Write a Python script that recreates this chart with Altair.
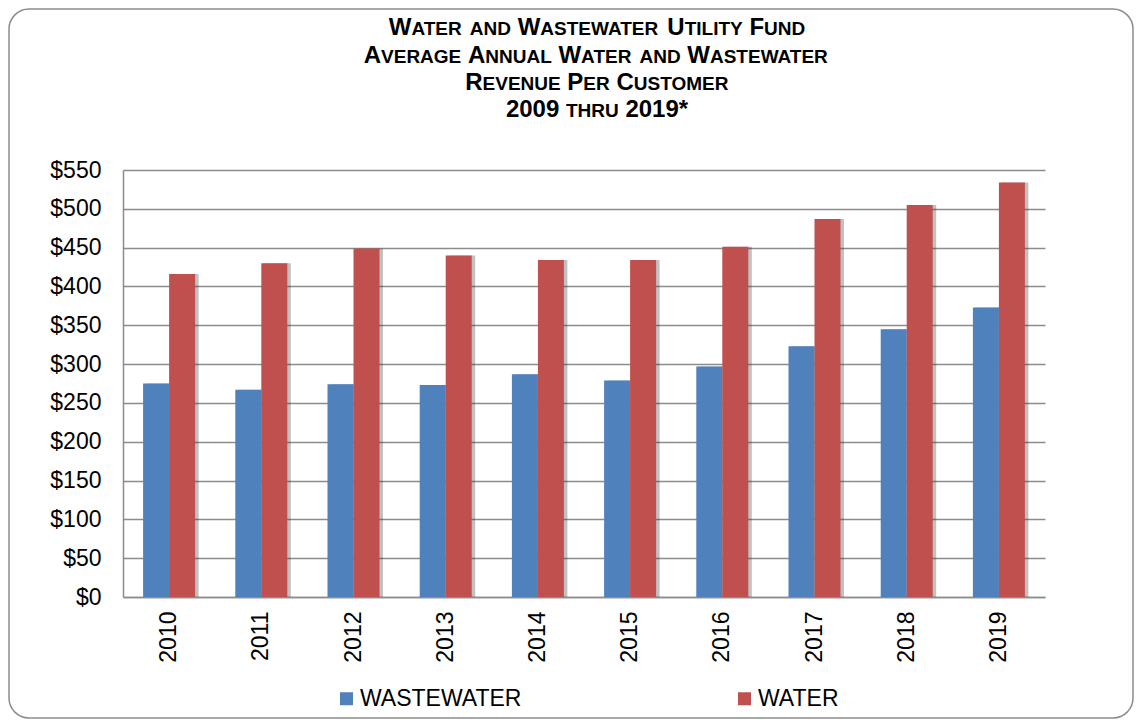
import altair as alt
import pandas as pd

# ---- data ----
years = ["2010", "2011", "2012", "2013", "2014", "2015", "2016", "2017", "2018", "2019"]
wastewater = [275, 267, 274, 273, 287, 279, 297, 323, 345, 373]
water = [416, 430, 449, 440, 434, 434, 451, 487, 505, 534]
series = ["WASTEWATER", "WATER"]
colors = ["#4F81BD", "#C0504D"]
y_ticks = [0, 50, 100, 150, 200, 250, 300, 350, 400, 450, 500, 550]
title_lines = [
    "Water and Wastewater Utility Fund",
    "Average Annual Water and Wastewater",
    "Revenue Per Customer",
    "2009 thru 2019*",
]

rows = []
for i, yr in enumerate(years):
    rows.append({"year": yr, "series": series[0], "value": wastewater[i]})
    rows.append({"year": yr, "series": series[1], "value": water[i]})
df = pd.DataFrame(rows)

FONT = "Liberation Sans"
PLOT_W, PLOT_H = 922, 427
PAD = {"left": 115, "top": 162, "right": 89, "bottom": 122}
P_INNER, P_OUTER = 0.436, 0.218
STEP = PLOT_W / (len(years) - P_INNER + 2 * P_OUTER)
BANDW = STEP * (1 - P_INNER)

# ---- small-caps title built from text segments ----
BOLD_W = {
    " ": 278, "*": 389, "A": 722, "B": 722, "C": 722, "D": 722, "E": 667, "F": 611,
    "G": 778, "H": 722, "I": 278, "J": 556, "K": 722, "L": 611, "M": 833, "N": 722,
    "O": 778, "P": 667, "Q": 778, "R": 722, "S": 667, "T": 611, "U": 722, "V": 667,
    "W": 944, "X": 667, "Y": 667, "Z": 611,
}
for d in "0123456789":
    BOLD_W[d] = 556
BIG, SMALL = 24, 19
CX = 474
baselines = [-135, -107.3, -80, -52.7]

title_layers = []
one = alt.Data(values=[{"a": 1}])
for line, by in zip(title_lines, baselines):
    chars = []
    for ch in line:
        fs = SMALL if ch.islower() else BIG
        chars.append((ch.upper(), fs))
    total = sum(BOLD_W[c] * fs / 1000 for c, fs in chars)
    x = CX - total / 2
    segs = []
    for c, fs in chars:
        w = BOLD_W[c] * fs / 1000
        if c == " ":
            segs.append(None)
        elif segs and segs[-1] is not None and segs[-1][2] == fs:
            segs[-1][1] += c
        else:
            segs.append([x, c, fs])
        x += w
    for s in segs:
        if s is None:
            continue
        title_layers.append(
            alt.Chart(one).mark_text(
                align="left", baseline="alphabetic", font=FONT, fontWeight="bold",
                fontSize=s[2], color="black"
            ).encode(x=alt.value(s[0]), y=alt.value(by), text=alt.value(s[1]))
        )

frame = alt.Chart(one).mark_rect(
    fillOpacity=0, stroke="#8c8c8c", strokeWidth=1.5, cornerRadius=20
).encode(
    x=alt.value(-114), x2=alt.value(PLOT_W + PAD["right"] - 1),
    y=alt.value(-PAD["top"] + 1), y2=alt.value(PLOT_H + PAD["bottom"] - 1),
)

x_enc = alt.X(
    "year:N", sort=years, title=None,
    scale=alt.Scale(paddingInner=P_INNER, paddingOuter=P_OUTER),
    axis=alt.Axis(
        labelAngle=270, labelAlign="right", labelBaseline="middle",
        labelFont=FONT, labelFontSize=23, labelColor="black", labelPadding=14,
        ticks=False, tickSize=0, domainColor="#8c8c8c", domainWidth=1.5, grid=False,
    ),
)
y_enc = alt.Y(
    "value:Q", title=None,
    scale=alt.Scale(domain=[0, 550], nice=False),
    axis=alt.Axis(
        values=y_ticks, format="$.0f", labelFont=FONT, labelFontSize=23,
        labelColor="black", labelPadding=22, ticks=False, tickSize=0,
        domainColor="#8c8c8c", domainWidth=1.5, grid=True, gridColor="#8c8c8c",
        gridWidth=1.3,
    ),
)
xoff = alt.XOffset("series:N", sort=series,
                   scale=alt.Scale(domain=series, paddingInner=0, paddingOuter=0))
xoff_shadow = alt.XOffset("series:N", sort=series,
                          scale=alt.Scale(domain=series, paddingInner=0, paddingOuter=0,
                                          range=[3.5, BANDW + 3.5]))

shadow = alt.Chart(df).mark_bar(color="#333333", opacity=0.3).encode(
    x=x_enc, y=y_enc, xOffset=xoff_shadow, y2=alt.value(PLOT_H + 2)
)

bars = alt.Chart(df).mark_bar().encode(
    x=x_enc, y=y_enc, xOffset=xoff,
    color=alt.Color(
        "series:N", sort=series,
        scale=alt.Scale(domain=series, range=colors),
        legend=alt.Legend(
            title=None, orient="none", legendX=212, legendY=517,
            direction="horizontal", symbolType="square", symbolSize=169,
            symbolStrokeWidth=0, labelFont=FONT, labelFontSize=23,
            labelColor="black", labelOffset=2, labelLimit=0,
            columnPadding=211, padding=0,
        ),
    ),
)

chart = alt.layer(frame, *title_layers, shadow, bars).resolve_scale(
    xOffset="independent"
).properties(
    width=PLOT_W, height=PLOT_H,
    autosize=alt.AutoSizeParams(type="none"),
    padding=PAD,
).configure(background="white").configure_view(stroke=None, strokeWidth=0)

chart.save("out.html", embed_options={"renderer": "svg", "actions": False})
